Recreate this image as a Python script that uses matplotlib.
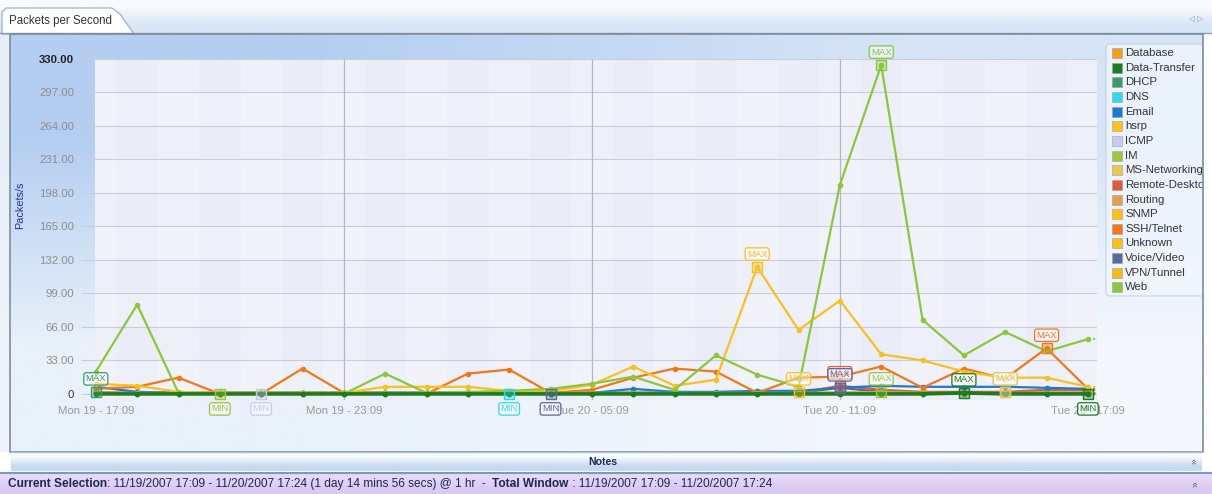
"""Packets per Second - traffic monitor screenshot look-alike."""
import matplotlib
matplotlib.use("Agg")
import matplotlib.pyplot as plt
from matplotlib.patches import Rectangle, FancyBboxPatch, Polygon
from matplotlib.colors import to_rgb
import numpy as np

W, H = 1212, 494
FONT = ["Liberation Sans", "DejaVu Sans"]
plt.rcParams["font.family"] = FONT

# ---- data -------------------------------------------------------------
HOURS = list(range(25))
XTICK_POS = [0, 6, 12, 18, 24]
XTICK_LABELS = ["Mon 19 - 17:09", "Mon 19 - 23:09", "Tue 20 - 05:09",
                "Tue 20 - 11:09", "Tue 20 - 17:09"]
YTICKS = [0, 33, 66, 99, 132, 165, 198, 231, 264, 297, 330]
YTICK_LABELS = ["0", "33.00", "66.00", "99.00", "132.00", "165.00", "198.00",
                "231.00", "264.00", "297.00", "330.00"]

NAMES = ["Database", "Data-Transfer", "DHCP", "DNS", "Email", "hsrp", "ICMP",
         "IM", "MS-Networking", "Remote-Desktop", "Routing", "SNMP",
         "SSH/Telnet", "Unknown", "Voice/Video", "VPN/Tunnel", "Web"]
COLORS = ["#f0a020", "#1e7a1e", "#3f9a68", "#30d8e8", "#1f78d4", "#ffc020",
          "#c8c8f0", "#9ec43c", "#e6c850", "#de5a3a", "#e0a050", "#ffc010",
          "#f07818", "#f8c020", "#5a6a9a", "#f8b818", "#8cc63c"]

database = [1, 1, 1, 1, 1, 1, 1, 1, 1, 1, 1, 1, 1, 1, 1, 1, 1, 1, 1, 1, 1, 1, 1, 1, 1]
data_transfer = [0, 0, 0, 0, 0, 0, 0, 0, 0, 0, 0, 0, 0, 0, 0, 0, 0, 0, 0, 0, 0, 1, 0, 0, 0]
dhcp = [2, 0, 0, 0, 0, 0, 0, 0, 0, 0, 0, 0, 0, 0, 0, 0, 0, 0, 0, 0, 0, 0, 0, 0, 0]
dns = [1, 1, 1, 1, 1, 1, 1, 1, 1, 1, 0, 1, 1, 1, 1, 1, 1, 1, 1, 1, 1, 1, 1, 1, 1]
email = [7, 2, 1, 1, 1, 1, 1, 1, 1, 1, 1, 1, 1, 5, 2, 2, 3, 3, 6, 8, 7, 7, 7, 6, 5]
hsrp = [1, 1, 1, 1, 1, 1, 1, 1, 1, 1, 1, 1, 1, 1, 1, 1, 1, 2, 1, 1, 1, 1, 1, 1, 1]
icmp = [1, 1, 1, 1, 0, 1, 1, 1, 1, 1, 1, 1, 1, 1, 1, 1, 1, 1, 1, 1, 1, 1, 2, 1, 1]
im = [1, 1, 1, 0, 1, 1, 1, 1, 1, 1, 1, 1, 1, 1, 1, 1, 1, 1, 1, 2, 1, 1, 1, 1, 1]
ms_networking = [1, 1, 1, 1, 1, 1, 1, 1, 1, 1, 1, 1, 1, 1, 1, 1, 1, 1, 1, 1, 1, 1, 2, 1, 1]
remote_desktop = [1, 1, 1, 1, 1, 1, 1, 1, 1, 1, 1, 1, 1, 1, 1, 1, 1, 1, 8, 4, 2, 2, 2, 4, 4]
routing = [1, 1, 1, 1, 1, 1, 1, 1, 1, 1, 1, 1, 1, 1, 1, 1, 1, 1, 1, 1, 1, 1, 1, 1, 1]
snmp = [1, 1, 1, 1, 1, 1, 1, 1, 1, 1, 1, 1, 1, 1, 1, 1, 1, 1, 1, 1, 1, 1, 1, 1, 1]
ssh_telnet = [5, 7, 16, 0, 0, 25, 1, 0, 0, 20, 24, 1, 4, 16, 25, 22, 1, 16, 17, 27, 6, 25, 15, 45, 5]
unknown = [10, 8, 2, 1, 1, 1, 1, 7, 7, 7, 3, 3, 9, 27, 8, 14, 125, 63, 92, 39, 33, 22, 16, 16, 7]
voice_video = [1, 1, 1, 1, 1, 1, 1, 1, 1, 1, 1, 0, 1, 1, 1, 1, 1, 1, 6, 2, 1, 1, 1, 1, 1]
vpn_tunnel = [1, 1, 1, 1, 1, 1, 1, 1, 1, 1, 1, 1, 1, 1, 1, 1, 1, 1, 1, 1, 1, 1, 1, 1, 1]
web = [22, 88, 1, 0, 0, 0, 0, 20, 1, 2, 3, 5, 10, 17, 4, 38, 19, 7, 206, 324, 73, 38, 61, 42, 54]

SERIES = {"Database": database, "Data-Transfer": data_transfer, "DHCP": dhcp,
          "DNS": dns, "Email": email, "hsrp": hsrp, "ICMP": icmp, "IM": im,
          "MS-Networking": ms_networking, "Remote-Desktop": remote_desktop,
          "Routing": routing, "SNMP": snmp, "SSH/Telnet": ssh_telnet,
          "Unknown": unknown, "Voice/Video": voice_video,
          "VPN/Tunnel": vpn_tunnel, "Web": web}

# drawing order (last on top)
ORDER = ["Database", "DHCP", "DNS", "ICMP", "MS-Networking", "Routing", "SNMP",
         "VPN/Tunnel", "hsrp", "Voice/Video", "Remote-Desktop", "Email",
         "SSH/Telnet", "Unknown", "IM", "Web", "Data-Transfer"]

MARKS = [("MAX", "DHCP", 0), ("MAX", "Unknown", 16), ("MAX", "hsrp", 17),
         ("MAX", "Remote-Desktop", 18), ("MAX", "Voice/Video", 18),
         ("MAX", "IM", 19), ("MAX", "Web", 19), ("MAX", "Data-Transfer", 21),
         ("MAX", "ICMP", 22), ("MAX", "MS-Networking", 22),
         ("MAX", "SSH/Telnet", 23),
         ("MIN", "IM", 3), ("MIN", "ICMP", 4), ("MIN", "DNS", 10),
         ("MIN", "Voice/Video", 11), ("MIN", "Data-Transfer", 24)]

STATUS = [("Current Selection", "bold"),
          (": 11/19/2007 17:09 - 11/20/2007 17:24 (1 day 14 mins 56 secs) @ 1 hr  -  ", "normal"),
          ("Total Window", "bold"),
          (" : 11/19/2007 17:09 - 11/20/2007 17:24", "normal")]

COL = dict(zip(NAMES, COLORS))


def px_axes(fig, x0, y0, x1, y1):
    return fig.add_axes([x0 / W, 1 - y1 / H, (x1 - x0) / W, (y1 - y0) / H])


def grad(ax, x0, y0, x1, y1, tl, tr, bl, br, z=0):
    img = np.array([[to_rgb(tl), to_rgb(tr)], [to_rgb(bl), to_rgb(br)]])
    ax.imshow(img, extent=(x0, x1, y1, y0), origin="upper", aspect="auto",
              interpolation="bilinear", zorder=z)


fig = plt.figure(figsize=(W / 100, H / 100), dpi=100)
bg = fig.add_axes([0, 0, 1, 1])
bg.axis("off")

# top strip + tab
grad(bg, 0, 0, W, 33, "#f7fafe", "#f7fafe", "#d9e6f6", "#d9e6f6")
bg.add_patch(Polygon([(2, 34), (2, 12), (6, 8), (112, 8), (120, 14), (134, 34)],
                     closed=True, fc="white", ec="#9aa8bb", lw=0.8, zorder=2))
bg.text(9, 21, "Packets per Second", fontsize=8.3, color="#333333", va="center", zorder=3)
bg.text(1196, 19, "◁ ▷", fontsize=5.5, color="#8090a8", ha="center", va="center",
        family=["DejaVu Sans"])
bg.plot([0, W], [33.5, 33.5], color="#8a9ab0", lw=1)

# main panel
grad(bg, 0, 34, 10, 452, "#e6eef9", "#e6eef9", "#eef4fb", "#eef4fb")
grad(bg, 10, 34, 1203, 452, "#b3cef1", "#d6e4f7", "#e9f1fa", "#f4f8fd")
bg.add_patch(Rectangle((10, 34), 1193, 418, fill=False, ec="#7f8c9c", lw=1.2, zorder=2))

# notes bar
grad(bg, 11, 452, 1202, 471, "#f8fbfe", "#f8fbfe", "#c6d9f0", "#c6d9f0", z=1)
bg.plot([11, 1202], [452, 452], color="#a9c0dc", lw=1, zorder=2)
bg.text(603, 462, "Notes", fontsize=7.6, weight="bold", color="#1c2c58",
        ha="center", va="center", zorder=3)
bg.text(1195, 461, "»", rotation=90, fontsize=7.5, color="#556677", ha="center",
        va="center", zorder=3)
bg.plot([0, W], [472.5, 472.5], color="#7d98c4", lw=1.5, zorder=2)

# status bar
grad(bg, 0, 473, W, H, "#e6d8f8", "#e6d8f8", "#dac9f2", "#dac9f2", z=1)
renderer = fig.canvas.get_renderer()
xpos = 8
for txt, wt in STATUS:
    t = bg.text(xpos, 484, txt, fontsize=8.6, weight=wt, color="#1a2a50",
                va="center", zorder=3)
    bb = t.get_window_extent(renderer=renderer)
    xpos += bb.width
bg.text(1196, 484, "»", rotation=90, fontsize=7.5, color="#556677", ha="center",
        va="center", zorder=3)

bg.set_xlim(0, W)
bg.set_ylim(H, 0)

# y label
bg.text(20, 205, "Packets/s", rotation=90, fontsize=7.8, color="#1e2ea0",
        ha="center", va="center", zorder=3)

# ---- plot area --------------------------------------------------------
ax = px_axes(fig, 95, 59, 1097, 400)
ax.set_facecolor("#eaedf8")
ax.set_xlim(-0.02, 24.22)
ax.set_ylim(-6, 330)
for i in range(0, 25, 2):
    ax.axvspan(i - 0.5, i + 0.5, color="white", alpha=0.2, lw=0, zorder=0)
for k in range(0, 10, 2):
    ax.axhspan(YTICKS[k], YTICKS[k + 1], color="white", alpha=0.2, lw=0, zorder=0)
for y in YTICKS:
    ax.axhline(y, color="#c9cdd9", lw=0.8, zorder=1)
for x in XTICK_POS[1:4]:
    ax.axvline(x, color="#b4b8c6", lw=0.9, zorder=1)

for name in ORDER:
    vals = SERIES[name]
    lw = 2.6 if name == "Data-Transfer" else 1.6
    ax.plot(HOURS, vals, color=COL[name], lw=lw, marker="o", ms=3,
            clip_on=False, zorder=3)
    ax.plot([HOURS[-1], 24.22], [vals[-1], vals[-1]], color=COL[name], lw=1.4,
            ls=":", zorder=3)

for kind, name, idx in MARKS:
    c = COL[name]
    v = SERIES[name][idx]
    ax.plot(idx, v, marker="s", ms=7, mfc=to_rgb(c) + (0.35,), mec=c, mew=1,
            clip_on=False, zorder=4)
    dy = 13 if kind == "MAX" else -15
    ax.annotate(kind, xy=(idx, v), xytext=(0, dy), textcoords="offset pixels",
                ha="center", va="center", fontsize=6.8, color=c,
                annotation_clip=False, zorder=5,
                bbox=dict(boxstyle="round,pad=0.18,rounding_size=0.25",
                          fc=(1, 1, 1, 0.45), ec=c, lw=0.9))

ax.set_xticks(XTICK_POS)
ax.set_xticklabels(XTICK_LABELS, fontsize=8.2, color="#9a9a9a")
ax.set_yticks(YTICKS)
ax.set_yticklabels(YTICK_LABELS, fontsize=8.2, color="#8e8e8e")
ax.tick_params(axis="x", length=0, pad=4)
ax.tick_params(axis="y", length=10, color="#c9cdd9", pad=5)
labels = ax.get_yticklabels()
labels[0].set_color("#333333")
labels[-1].set_color("#222222")
labels[-1].set_fontweight("bold")
for s in ax.spines.values():
    s.set_visible(False)

# ---- legend -----------------------------------------------------------
lg = px_axes(fig, 1104, 42, 1202, 298)
lg.set_xlim(1104, 1202)
lg.set_ylim(298, 42)
lg.axis("off")
lg.add_patch(FancyBboxPatch((1106, 44), 110, 252, boxstyle="round,pad=0,rounding_size=4",
                            fc=(0.95, 0.97, 1.0, 0.75), ec="#c5d2e4", lw=0.8))
for k, (name, c) in enumerate(zip(NAMES, COLORS)):
    y = 53 + k * 14.65
    lg.add_patch(Rectangle((1112, y - 5), 10, 10, fc=c, ec="#a0a0a0", lw=0.4))
    lg.text(1125, y, name, fontsize=8.2, color="#333333", va="center", clip_on=True)

fig.savefig("out.png", dpi=100)
plt.close(fig)
print("OK out.png")
